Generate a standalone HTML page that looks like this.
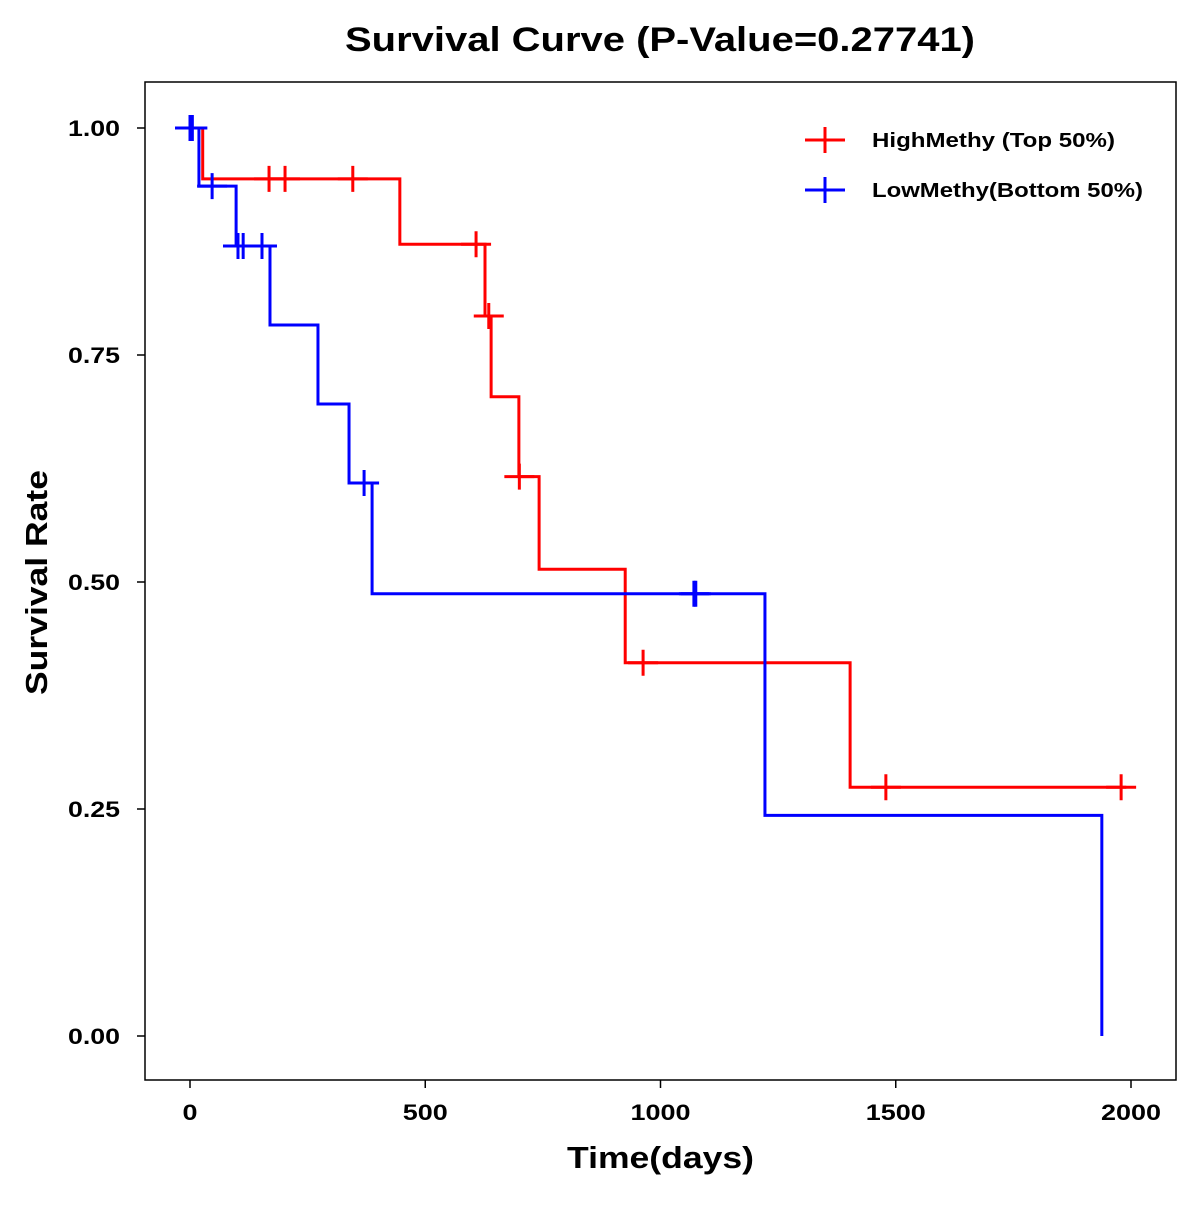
<!DOCTYPE html>
<html><head><meta charset="utf-8"><style>
body{margin:0;background:#fff}
svg text{font-family:"Liberation Sans",Arial,sans-serif;font-weight:bold}
</style></head><body>
<svg id="chart" width="1200" height="1200" viewBox="0 0 1200 1200" xmlns="http://www.w3.org/2000/svg">
<rect width="1200" height="1200" fill="#fff"/>
<text x="345" y="51" font-size="34" textLength="630" lengthAdjust="spacingAndGlyphs">Survival Curve (P-Value=0.27741)</text>
<rect x="145" y="82" width="1031" height="998" fill="none" stroke="#000" stroke-width="1.5"/>
<g id="axes"></g>
<g id="series"></g>
<text x="567" y="1168" font-size="31" textLength="187" lengthAdjust="spacingAndGlyphs">Time(days)</text>
<text transform="translate(47,695) rotate(-90)" font-size="31" textLength="225" lengthAdjust="spacingAndGlyphs">Survival Rate</text>
<g>
<g>
<line x1="805" y1="140" x2="845" y2="140" stroke="#f00" stroke-width="3"/><line x1="825" y1="127" x2="825" y2="153" stroke="#f00" stroke-width="3"/>
<text x="872" y="147" font-size="20" textLength="243" lengthAdjust="spacingAndGlyphs">HighMethy (Top 50%)</text></g>
<g>
<line x1="805" y1="190" x2="845" y2="190" stroke="#00f" stroke-width="3"/><line x1="825" y1="177" x2="825" y2="203" stroke="#00f" stroke-width="3"/>
<text x="872" y="197" font-size="20" textLength="271" lengthAdjust="spacingAndGlyphs">LowMethy(Bottom 50%)</text></g>
</g>
</svg>
<script>
const xTicks=[0,500,1000,1500,2000];
const yTicks=[0,0.25,0.5,0.75,1];
const yTickLabels=["0.00","0.25","0.50","0.75","1.00"];
const highTimes=[0,27,446,627,640,699,742,925,1403,1990];
const highSurv=[1,0.944,0.872,0.793,0.704,0.616,0.514,0.411,0.274,0.274];
const highCensorT=[168,202,346,608,635,700,963,1479,1979];
const lowTimes=[0,19,98,170,272,338,387,1222,1938,1938];
const lowSurv=[1,0.936,0.870,0.783,0.696,0.609,0.487,0.243,0,0];
const lowCensorT=[0,5,47,102,113,153,370,1071,1075];
const X=t=>190+t*0.4705, Y=s=>1036-s*908;
const NS="http://www.w3.org/2000/svg";
const ax=document.getElementById('axes'), sg=document.getElementById('series');
function mk(tag,attrs,parent){const e=document.createElementNS(NS,tag);for(const k in attrs)e.setAttribute(k,attrs[k]);parent.appendChild(e);return e;}
xTicks.forEach(v=>{
 const l=mk('line',{x1:X(v),x2:X(v),y1:1080,y2:1088,stroke:'#000','stroke-width':1.5},ax);
 
 
 const w=String(v).length*15;
 const t=mk('text',{x:X(v),y:1120,'font-size':22,'text-anchor':'middle',textLength:w,lengthAdjust:'spacingAndGlyphs'},ax);t.textContent=v;
 
 
});
yTicks.forEach((v,i)=>{
 const l=mk('line',{x1:137,x2:145,y1:Y(v),y2:Y(v),stroke:'#000','stroke-width':1.5},ax);
 
 
 const t=mk('text',{x:68,y:Y(v)+8,'font-size':22,textLength:52,lengthAdjust:'spacingAndGlyphs'},ax);t.textContent=yTickLabels[i];
 
 
});
function survAt(times,surv,t){let s=surv[0];for(let i=0;i<times.length;i++){if(times[i]<=t)s=surv[i];}return s;}
function draw(times,surv,cens,color,name){
 let d='M'+X(times[0])+','+Y(surv[0]);
 for(let i=1;i<times.length;i++){d+=' H'+X(times[i])+' V'+Y(surv[i]);}
 const p=mk('path',{d:d,fill:'none',stroke:color,'stroke-width':3},sg);
 
 
 cens.forEach(t=>{
  const s=survAt(times,surv,t),cx=X(t),cy=Y(s);
  const g=mk('path',{d:`M${cx-15},${cy} H${cx+15} M${cx},${cy-13} V${cy+13}`,stroke:color,'stroke-width':3,fill:'none'},sg);
  
  
 });
}
draw(highTimes,highSurv,highCensorT,'#f00','high-methy');
draw(lowTimes,lowSurv,lowCensorT,'#00f','low-methy');
</script>
</body></html>
